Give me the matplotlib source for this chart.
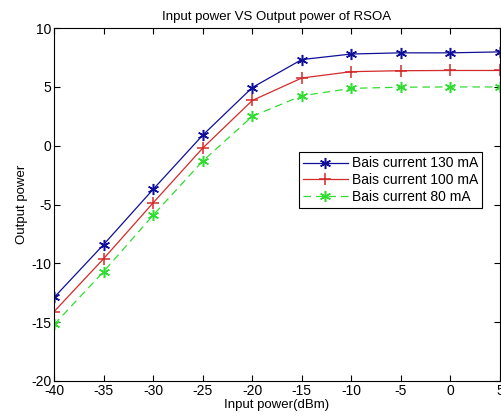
import matplotlib
matplotlib.use('Agg')
import matplotlib.pyplot as plt

input_power = [-40, -35, -30, -25, -20, -15, -10, -5, 0, 5]
out_130 = [-12.9, -8.4, -3.7, 0.9, 4.95, 7.33, 7.8, 7.9, 7.9, 7.98]
out_100 = [-14.1, -9.6, -4.85, -0.2, 3.85, 5.76, 6.3, 6.38, 6.4, 6.4]
out_80 = [-15.2, -10.7, -5.9, -1.3, 2.5, 4.25, 4.88, 4.98, 5.0, 5.0]

plt.rcParams['font.family'] = ['Liberation Sans', 'DejaVu Sans']
plt.rcParams['axes.unicode_minus'] = False

fig = plt.figure(figsize=(5.01, 4.2), dpi=100)
ax = fig.add_axes([0.108, 0.093, 0.89, 0.84])

asterisk = (6, 2, 0)
ax.plot(input_power, out_130, color='#10109a', marker=asterisk, markersize=8, mew=1.1, lw=0.9, label='Bais current 130 mA')
ax.plot(input_power, out_100, color='#d42a2a', marker='+', markersize=9, mew=1.1, lw=0.9, label='Bais current 100 mA')
ax.plot(input_power, out_80, color='#30dd30', marker=asterisk, markersize=8, mew=1.1, lw=0.9, ls=(0, (6, 4)), label='Bais current 80 mA')

ax.set_xlim(-40, 5)
ax.set_ylim(-20, 10)
ax.set_xticks(range(-40, 6, 5))
ax.set_yticks(range(-20, 11, 5))
ax.tick_params(direction='in', top=True, right=True, length=4, labelsize=10, pad=2)
for s in ax.spines.values():
    s.set_linewidth(0.8)

ax.set_title('Input power VS Output power of RSOA', fontsize=9.5, pad=6)
ax.set_xlabel('Input power(dBm)', fontsize=9.5, labelpad=1)
ax.set_ylabel('Output power', fontsize=9.5, labelpad=2)

leg = ax.legend(loc='upper left', bbox_to_anchor=(0.549, 0.648), fontsize=10,
                fancybox=False, framealpha=1, edgecolor='black', borderaxespad=0,
                handlelength=3.2, borderpad=0.3, labelspacing=0.2, handletextpad=0.3)
leg.get_frame().set_linewidth(0.8)

fig.savefig('out.png', dpi=100)
